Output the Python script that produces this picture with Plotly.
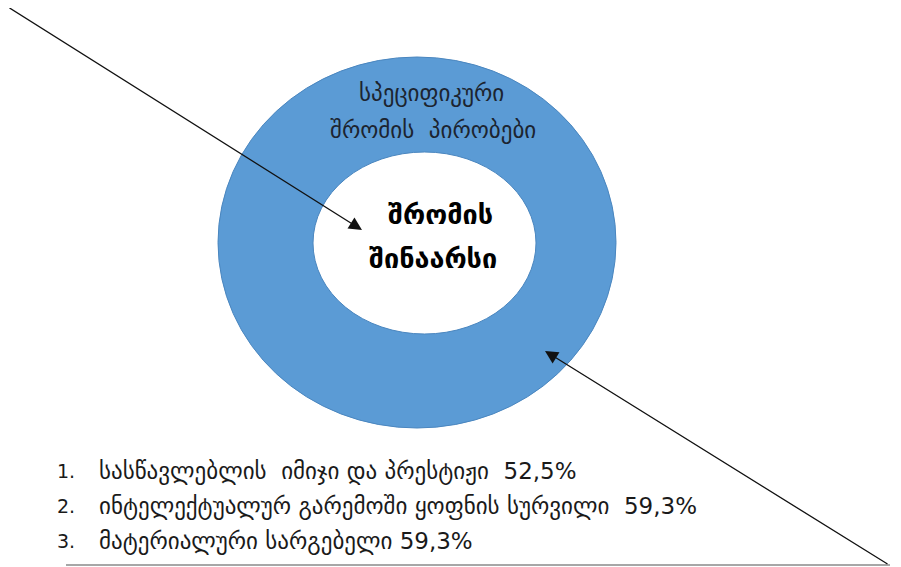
import plotly.graph_objects as go

ring_outer_label = ["სპეციფიკური", "შრომის  პირობები"]
ring_inner_label = ["შრომის", "შინაარსი"]
list_numbers = ["1.", "2.", "3."]
list_items = [
    "სასწავლებლის  იმიჯი და პრესტიჟი  52,5%",
    "ინტელექტუალურ გარემოში ყოფნის სურვილი  59,3%",
    "მატერიალური სარგებელი 59,3%",
]

W, H = 901, 567
OFF = 8  # page body margin compensation
fig = go.Figure()
fig.add_trace(go.Scatter(x=[OFF, W], y=[OFF, H], mode="markers", marker=dict(opacity=0),
                         hoverinfo="skip", showlegend=False))

shapes = []
shapes.append(dict(type="line", x0=8, y0=7, x1=905, y1=7, line=dict(color="#333333", width=1.5)))
shapes.append(dict(type="line", x0=66, y0=565, x1=890, y1=565, line=dict(color="#8a8a8a", width=1.5)))
shapes.append(dict(type="circle", x0=218, y0=57, x1=616, y1=428, fillcolor="#5B9BD5",
                   line=dict(color="#4a86bf", width=1), layer="below"))
shapes.append(dict(type="circle", x0=313, y0=152, x1=536, y1=334, fillcolor="white",
                   line=dict(color="#4a86bf", width=1), layer="below"))

annotations = []
annotations.append(dict(x=362, y=230, ax=8, ay=7, xref="x", yref="y", axref="x", ayref="y",
                        showarrow=True, arrowhead=2, arrowsize=2, arrowwidth=1.3, arrowcolor="#111", text=""))
annotations.append(dict(x=545, y=351, ax=889, ay=565, xref="x", yref="y", axref="x", ayref="y",
                        showarrow=True, arrowhead=2, arrowsize=2, arrowwidth=1.3, arrowcolor="#111", text=""))

font_ring = dict(family="DejaVu Sans", size=23, color="#1c2430")
ring_pos = [(431, 93), (433, 130)]
for (xx, yy), t in zip(ring_pos, ring_outer_label):
    annotations.append(dict(x=xx, y=yy, xref="x", yref="y", text=t, showarrow=False, font=font_ring))
font_inner = dict(family="DejaVu Sans", size=27, color="#000000")
inner_pos = [(440, 214), (433, 258)]
for (xx, yy), t in zip(inner_pos, ring_inner_label):
    annotations.append(dict(x=xx, y=yy, xref="x", yref="y", text="<b>" + t + "</b>",
                            showarrow=False, font=font_inner))

font_list = dict(family="DejaVu Sans", size=23, color="#1a1a1a")
for i, (n, t) in enumerate(zip(list_numbers, list_items)):
    yy = 471 + 35 * i
    annotations.append(dict(x=55, y=yy, xref="x", yref="y", text=n, showarrow=False, xanchor="left",
                            font=dict(family="DejaVu Sans", size=19, color="#1a1a1a")))
    annotations.append(dict(x=97, y=yy, xref="x", yref="y", text=t, showarrow=False, xanchor="left",
                            font=font_list))

fig.update_layout(
    width=W, height=H, margin=dict(l=0, r=0, t=0, b=0),
    paper_bgcolor="white", plot_bgcolor="white",
    xaxis=dict(range=[OFF, W + OFF], visible=False, fixedrange=True),
    yaxis=dict(range=[H + OFF, OFF], visible=False, fixedrange=True),
    shapes=shapes, annotations=annotations, showlegend=False,
)
fig.write_html("out.html")
